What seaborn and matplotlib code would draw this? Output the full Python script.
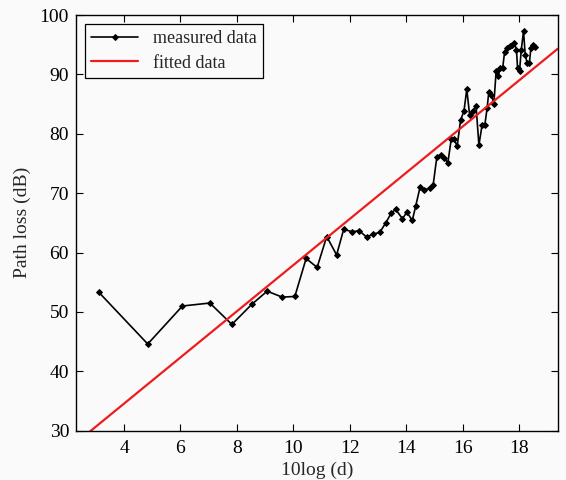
import numpy as np
import pandas as pd
import matplotlib
matplotlib.use("Agg")
import matplotlib.pyplot as plt
import seaborn as sns

# Measured path loss versus 10log(d)
log_distance = [
    3.11, 4.84, 6.07, 7.04, 7.82, 8.53, 9.07, 9.60, 10.05, 10.45,
    10.84, 11.18, 11.53, 11.78, 12.09, 12.33, 12.59, 12.82, 13.06, 13.27,
    13.46, 13.62, 13.86, 14.02, 14.21, 14.33, 14.49, 14.63, 14.83, 14.95,
    15.08, 15.21, 15.33, 15.47, 15.59, 15.68, 15.80, 15.92, 16.04, 16.14,
    16.24, 16.35, 16.47, 16.57, 16.68, 16.78, 16.86, 16.92, 17.01, 17.10,
    17.18, 17.25, 17.33, 17.41, 17.48, 17.56, 17.66, 17.74, 17.83, 17.90,
    17.94, 18.01, 18.07, 18.15, 18.21, 18.28, 18.36, 18.41, 18.48, 18.54,
]
path_loss = [
    53.3, 44.6, 51.0, 51.5, 47.9, 51.3, 53.5, 52.5, 52.6, 59.0,
    57.5, 62.7, 59.6, 63.9, 63.5, 63.7, 62.6, 63.1, 63.4, 65.0,
    66.6, 67.3, 65.7, 66.8, 65.4, 67.8, 71.1, 70.5, 70.9, 71.4,
    76.1, 76.4, 76.0, 75.1, 79.1, 79.2, 77.9, 82.3, 83.8, 87.5,
    83.2, 83.8, 84.6, 78.1, 81.4, 81.5, 84.3, 87.0, 86.5, 85.1,
    90.5, 89.8, 91.0, 91.0, 93.8, 94.4, 94.7, 94.9, 95.3, 94.1,
    91.0, 90.6, 94.1, 97.3, 93.3, 91.9, 92.0, 94.4, 94.9, 94.6,
]

# Linear fit: PL = slope * 10log(d) + intercept
fit_slope = 3.89
fit_intercept = 19.0

x_limits = (2.3, 19.36)
y_limits = (30, 100)
x_ticks = [4, 6, 8, 10, 12, 14, 16, 18]
y_ticks = [30, 40, 50, 60, 70, 80, 90, 100]

sns.set_style("ticks")
plt.rcParams["font.family"] = ["Liberation Serif", "DejaVu Serif"]
plt.rcParams["xtick.direction"] = "in"
plt.rcParams["ytick.direction"] = "in"

bg = "#fafafa"
fig = plt.figure(figsize=(5.66, 4.8), dpi=100, facecolor=bg)
ax = fig.add_axes([0.1343, 0.1027, 0.851, 0.866])
ax.set_facecolor(bg)

measured = pd.DataFrame({"x": log_distance, "y": path_loss})
fit_x = np.array(x_limits)
fitted = pd.DataFrame({"x": fit_x, "y": fit_slope * fit_x + fit_intercept})

sns.lineplot(data=measured, x="x", y="y", ax=ax, color="black", linewidth=1.2,
             marker="D", markersize=3, markeredgecolor="black",
             label="measured data", sort=False)
sns.lineplot(data=fitted, x="x", y="y", ax=ax, color="#ee1c1c", linewidth=1.6,
             label="fitted data")

ax.set_xlim(*x_limits)
ax.set_ylim(*y_limits)
ax.set_xticks(x_ticks)
ax.set_yticks(y_ticks)
ax.tick_params(axis="both", which="both", direction="in", length=5, width=0.8,
               labelsize=14, top=True, right=True, labeltop=False, labelright=False,
               colors="black")
ax.tick_params(axis="x", pad=7)
ax.tick_params(axis="y", pad=5)
for spine in ax.spines.values():
    spine.set_visible(True)
    spine.set_color("black")
    spine.set_linewidth(1.0)

ax.set_xlabel("10log (d)", fontsize=14, labelpad=3)
ax.set_ylabel("Path loss (dB)", fontsize=14, labelpad=6)

leg = ax.legend(loc="upper left", fontsize=13, frameon=True, fancybox=False,
                edgecolor="black", facecolor=bg, framealpha=1,
                borderaxespad=0.5, handlelength=2.6, borderpad=0.35,
                labelspacing=0.4)
leg.get_frame().set_linewidth(0.9)

fig.savefig("out.png", dpi=100, facecolor=bg)
